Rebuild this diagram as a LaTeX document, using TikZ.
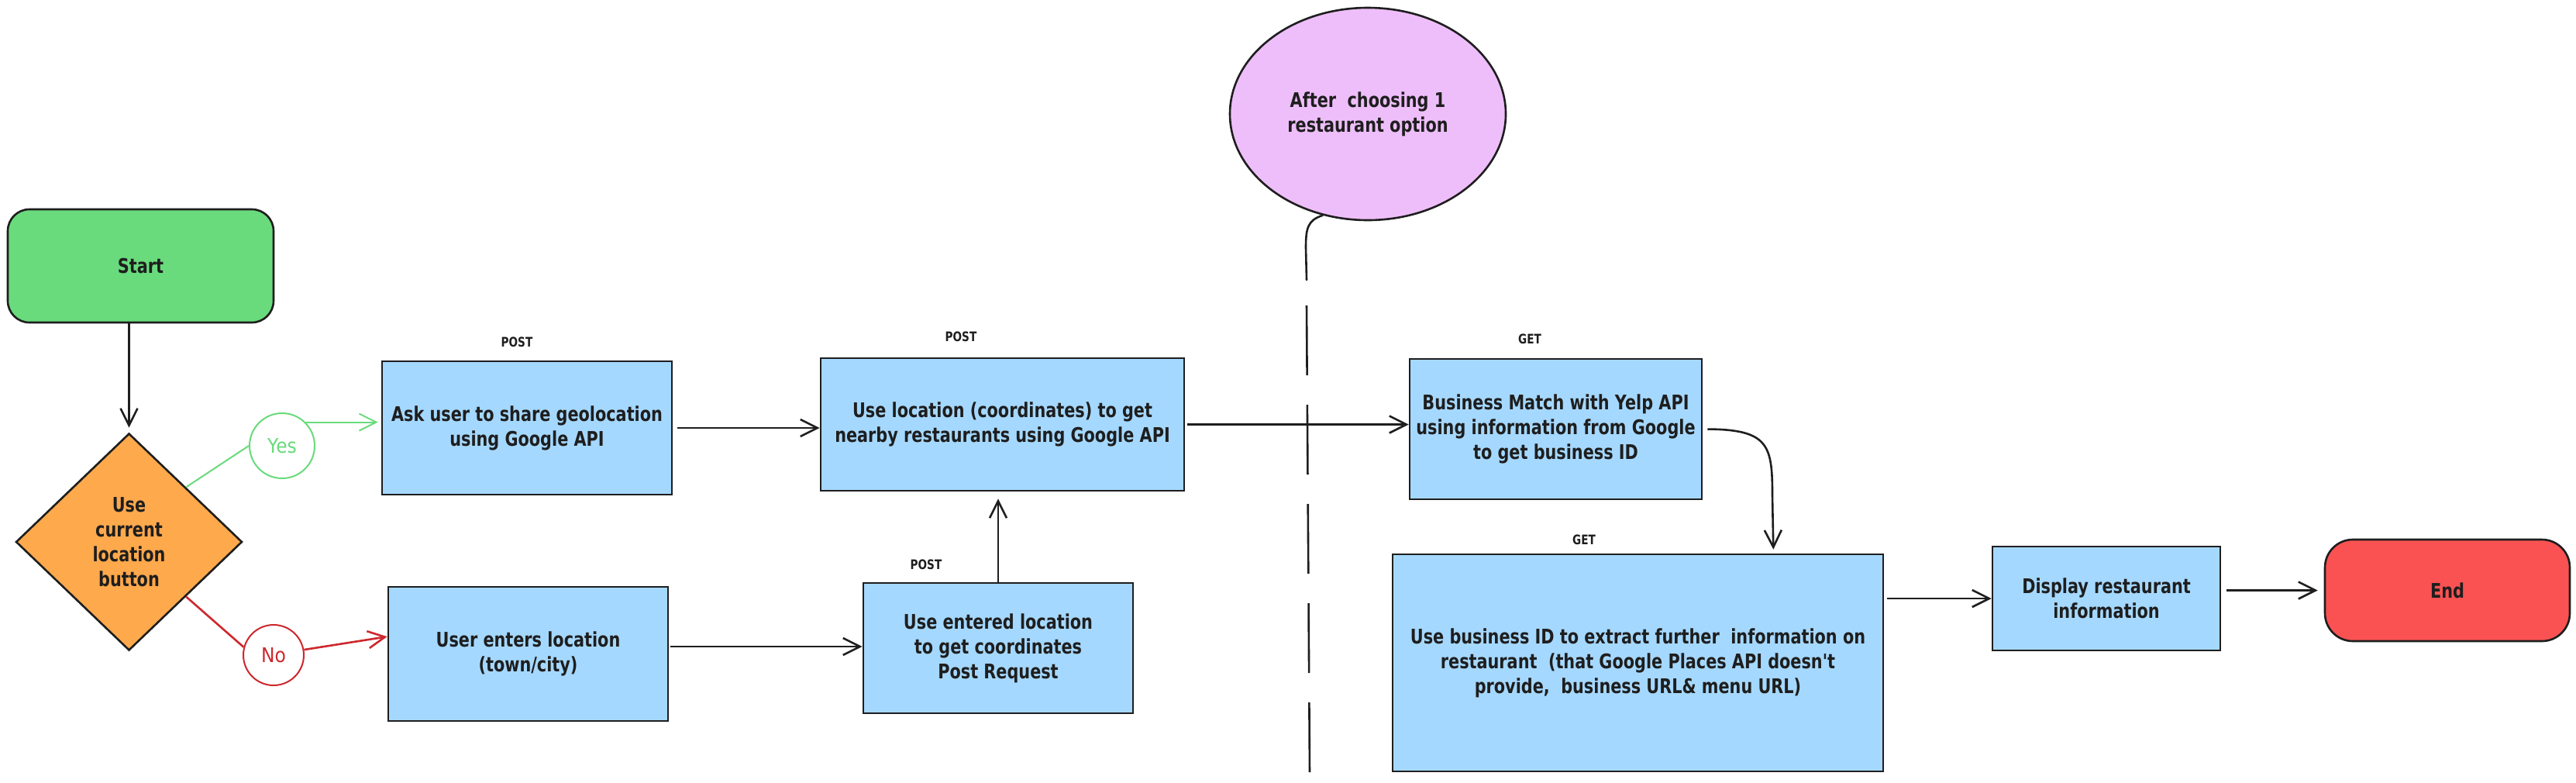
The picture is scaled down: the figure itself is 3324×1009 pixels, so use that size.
\documentclass[tikz,border=0pt]{standalone}
\usepackage{fontspec}
\setmainfont{DejaVu Sans}
\newfontfamily\cond{DejaVu Sans}[FakeStretch=0.8]
\newfontfamily\hand{DejaVu Sans}[FakeStretch=0.9]
\usetikzlibrary{shapes.geometric,calc,arrows.meta}
\definecolor{ink}{HTML}{1E1E1E}
\definecolor{greenf}{HTML}{69DB7C}
\definecolor{orangef}{HTML}{FFA94D}
\definecolor{bluef}{HTML}{A5D8FF}
\definecolor{purplef}{HTML}{EEBEFA}
\definecolor{redf}{HTML}{FA5252}
\definecolor{yesc}{HTML}{69DB7C}
\definecolor{noc}{HTML}{CD282D}
\tikzset{
  x=0.5pt, y=-0.5pt,
  every node/.style={font=\cond\bfseries\fontsize{13}{16}\selectfont, text=ink, align=center, inner sep=0pt},
  box/.style={draw=ink, line width=1.3pt, fill=bluef, rectangle},
  term/.style={draw=ink, line width=1.3pt, rectangle, rounded corners=#1},
  lbl/.style={font=\cond\bfseries\fontsize{8.5}{10}\selectfont},
  tag/.style={draw=#1, text=#1, line width=1pt, circle, font=\hand\fontsize{13}{16}\selectfont},
  arr/.style={draw=ink, line width=1.3pt, -{Straight Barb[length=11pt,width=11pt,line width=1.3pt]}},
  plain/.style={draw=ink, line width=1.3pt},
}
\begin{document}
\begin{tikzpicture}
\fill[white] (0,0) rectangle (3324,1009);
\useasboundingbox (0,0) rectangle (3324,1009);

% nodes
\node[term=14pt, fill=greenf, minimum width=171.5pt, minimum height=73pt] (start) at (181.5,343) {Start};
\node[draw=ink, line width=1.3pt, fill=orangef, diamond, minimum width=146pt, minimum height=140pt] (dec) at (166.5,699) {Use\\current\\location\\button};
\node[tag=yesc, minimum size=42pt] (yes) at (364,575) {Yes};
\node[tag=noc, minimum size=39pt] (no) at (353,845) {No};

\node[box, minimum width=187pt, minimum height=86pt] (ask) at (680,552) {Ask user to share geolocation\\using Google API};
\node[box, minimum width=180.5pt, minimum height=86.5pt] (user) at (681.5,843.5) {User enters location\\(town/city)};
\node[box, minimum width=234.5pt, minimum height=85.5pt] (loc) at (1293.5,547.5) {Use location (coordinates) to get\\nearby restaurants using Google API};
\node[box, minimum width=174pt, minimum height=84pt] (ent) at (1288,836) {Use entered location\\to get coordinates\\Post Request};
\node[draw=ink, line width=1.3pt, fill=purplef, ellipse, minimum width=178pt, minimum height=137pt] (ell) at (1765,147) {After \ choosing 1\\restaurant option};
\node[box, minimum width=188.5pt, minimum height=90.5pt] (biz) at (2007.5,553.5) {Business Match with Yelp API\\using information from Google\\to get business ID};
\node[box, minimum width=316.5pt, minimum height=140pt] (fur) at (2113.5,855) {Use business ID to extract further \ information on\\restaurant \ (that Google Places API doesn't\\provide, \ business URL\& menu URL)};
\node[box, minimum width=147pt, minimum height=67pt] (disp) at (2718,772) {Display restaurant\\information};
\node[term=18pt, fill=redf, minimum width=158pt, minimum height=65.5pt] (endn) at (3158,761.5) {End};

% labels
\node[lbl] (p1) at (667,441) {POST};
\node[lbl] (p2) at (1240,434) {POST};
\node[lbl] (p3) at (1195,728) {POST};
\node[lbl] (g1) at (1974,437) {GET};
\node[lbl] (g2) at (2044,696) {GET};

% connectors
\draw[arr, shorten >=3pt] (start.south -| dec.north) -- (dec.north);
\draw[draw=yesc, line width=1pt] (dec.north east) -- (yes.west);
\draw[draw=yesc, line width=1pt, -{Straight Barb[length=11pt,width=11pt,line width=1pt]}, shorten >=2pt] (yes.45) -- (yes.45 -| ask.west);
\draw[draw=noc, line width=1.3pt] (dec.south east) -- (no.165);
\draw[draw=noc, line width=1.3pt, -{Straight Barb[length=11pt,width=11pt,line width=1.3pt]}] (no.10) -- (user.173);

\draw[arr, shorten <=3pt] (ask.east) -- (ask.east -| loc.west);
\draw[arr, shorten <=1pt] (user.3) -- (user.3 -| ent.west);
\draw[arr, shorten >=4.5pt] (ent.north) -- (ent.north |- loc.south);
\draw[arr, shorten <=1.5pt] (loc.east) -- (loc.east -| biz.west);

\coordinate (fin) at ($(fur.north east)+(-143,-5)$);
\draw[arr, shorten <=3pt] (biz.east) .. controls (2283,554) and (2287,575) .. (2287,640) -- (fin);
\draw[arr, shorten <=2pt] (fur.east |- disp.west) -- (disp.west);
\draw[arr, shorten <=3.5pt, shorten >=4pt] (disp.east |- endn.west) -- (endn.west);

% divider
\coordinate (dv1) at (1686,361);
\coordinate (dv2) at (1686,394);
\coordinate (dv3) at (1690,1000);
\draw[plain, line cap=round] (ell.-114) .. controls (1687,284) and (1685,295) .. (1685,320) -- (dv1);
\draw[plain, dash pattern=on 45pt off 19pt] (dv2) -- (dv3);
\end{tikzpicture}
\end{document}
